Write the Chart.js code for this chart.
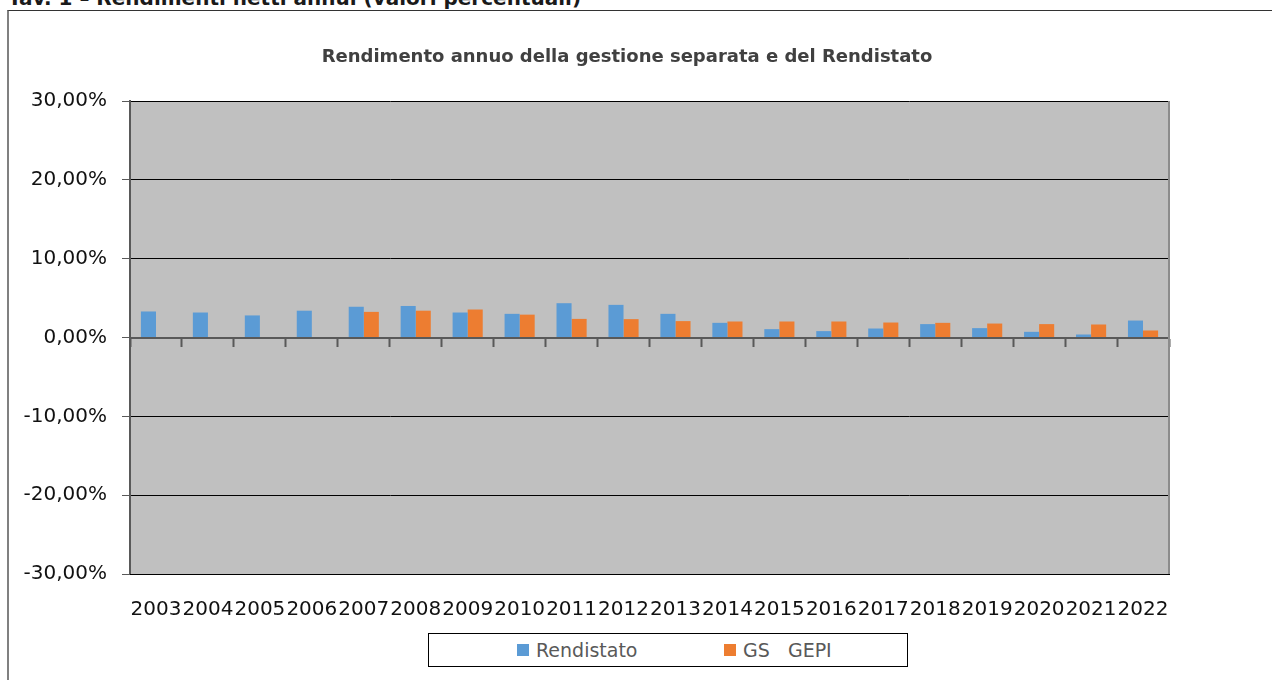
<!DOCTYPE html>
<html>
<head>
<meta charset="utf-8">
<title>Rendimento annuo della gestione separata e del Rendistato</title>
<script src="https://cdn.jsdelivr.net/npm/chart.js"></script>
<style>
    body {
        margin: 0;
        width: 1272px;
        height: 680px;
        overflow: hidden;
        background: #fff;
        font-family: "DejaVu Sans", sans-serif;
        position: relative;
    }
    #header {
        position: absolute;
        left: 8px;
        top: -14px;
        font-weight: bold;
        font-size: 20px;
        color: #1a1a1a;
        white-space: nowrap;
    }
    #frame {
        position: absolute;
        left: 7px;
        top: 10px;
        width: 1300px;
        height: 700px;
        border-top: 1px solid #333;
        border-left: 2px solid #808080;
    }
    #wrap {
        position: absolute;
        left: 0;
        top: 0;
        width: 1254px;
        height: 680px;
    }
    #legend {
        position: absolute;
        left: 428px;
        top: 633px;
        width: 478px;
        height: 32px;
        border: 1px solid #000;
        background: #fff;
    }
    .item {
        position: absolute;
        top: 4px;
        font-size: 19px;
        color: #595959;
        white-space: pre;
        line-height: 24px;
    }
    .swatch {
        display: inline-block;
        width: 12px;
        height: 12px;
        margin-right: 7px;
        vertical-align: 1px;
    }
</style>
</head>
<body>
<div id="header">Tav. 1 – Rendimenti netti annui (valori percentuali)</div>
<div id="frame"></div>
<div id="wrap"><canvas id="chart" width="1254" height="680"></canvas></div>
<div id="legend"></div>

<script>
const years = ['2003', '2004', '2005', '2006', '2007', '2008', '2009', '2010', '2011', '2012',
               '2013', '2014', '2015', '2016', '2017', '2018', '2019', '2020', '2021', '2022'];
const rendistato = [3.30, 3.17, 2.80, 3.40, 3.90, 4.00, 3.17, 3.00, 4.35, 4.14,
                    3.00, 1.86, 1.06, 0.81, 1.14, 1.70, 1.19, 0.72, 0.38, 2.15];
const gsGepi = [null, null, null, null, 3.25, 3.40, 3.55, 2.90, 2.36, 2.33,
                2.08, 2.03, 2.03, 2.03, 1.90, 1.86, 1.77, 1.70, 1.65, 0.89];
const seriesNames = ['Rendistato', 'GS   GEPI'];
const seriesColors = ['#5b9bd5', '#ed7d31'];
const chartTitle = 'Rendimento annuo della gestione separata e del Rendistato';
const yMin = -30, yMax = 30, yStep = 10;

// grey plot area, right border and the title (Excel centres it off the plot)
const plotArea = {
    id: 'plotArea',
    beforeDraw(chart) {
        const { ctx, chartArea: a } = chart;
        ctx.save();
        ctx.fillStyle = '#c0c0c0';
        ctx.fillRect(a.left, a.top, a.right - a.left, a.bottom - a.top);
        ctx.restore();
    },
    afterDraw(chart) {
        const { ctx, chartArea: a } = chart;
        ctx.save();
        ctx.strokeStyle = '#8c8c8c';
        ctx.lineWidth = 2;
        ctx.beginPath();
        ctx.moveTo(a.right, a.top);
        ctx.lineTo(a.right, a.bottom);
        ctx.stroke();

        ctx.fillStyle = '#404040';
        ctx.font = 'bold 18px "DejaVu Sans"';
        ctx.textAlign = 'center';
        ctx.textBaseline = 'middle';
        ctx.fillText(chartTitle, 627, 57);
        ctx.restore();
    }
};

const fmt = v => v.toFixed(2).replace('.', ',') + '%';

new Chart(document.getElementById('chart'), {
    type: 'bar',
    data: {
        labels: years,
        datasets: [
            { label: seriesNames[0], data: rendistato, backgroundColor: seriesColors[0] },
            { label: seriesNames[1], data: gsGepi, backgroundColor: seriesColors[1] }
        ]
    },
    options: {
        responsive: false,
        animation: false,
        datasets: { bar: { barPercentage: 1, categoryPercentage: 0.58 } },
        layout: { padding: { left: 0, right: 85, top: 101, bottom: 50 } },
        plugins: {
            legend: { display: false },
            tooltip: { enabled: false },
            title: { display: false }
        },
        scales: {
            y: {
                min: yMin,
                max: yMax,
                ticks: {
                    stepSize: yStep,
                    callback: fmt,
                    color: '#111',
                    font: { family: 'DejaVu Sans', size: 20 },
                    padding: 15
                },
                grid: { color: '#000', lineWidth: 1, tickColor: '#595959', tickLength: 8 },
                border: { color: '#595959', width: 2 },
                afterFit(s) { s.width = 130; }
            },
            x: {
                position: 'bottom',
                grid: { display: false },
                border: { color: '#000', width: 1 },
                ticks: {
                    autoSkip: false,
                    maxRotation: 0,
                    minRotation: 0,
                    color: '#111',
                    font: { family: 'DejaVu Sans', size: 20 },
                    padding: 16
                },
                afterFit(s) { s.height = 56; }
            },
            x0: {
                axis: 'x',
                type: 'category',
                position: { y: 0 },
                grid: { offset: true, drawOnChartArea: false, tickLength: 8, tickColor: '#595959', tickWidth: 2 },
                ticks: { display: false },
                border: { color: '#595959', width: 2 }
            }
        }
    },
    plugins: [plotArea]
});

// legend box
const legendEl = document.getElementById('legend');
const legendX = [88, 295];
seriesNames.forEach((name, i) => {
    const item = document.createElement('div');
    item.className = 'item';
    item.style.left = legendX[i] + 'px';
    item.innerHTML = '<span class="swatch" style="background:' + seriesColors[i] + '"></span>' + name;
    legendEl.appendChild(item);
});
</script>
</body>
</html>
